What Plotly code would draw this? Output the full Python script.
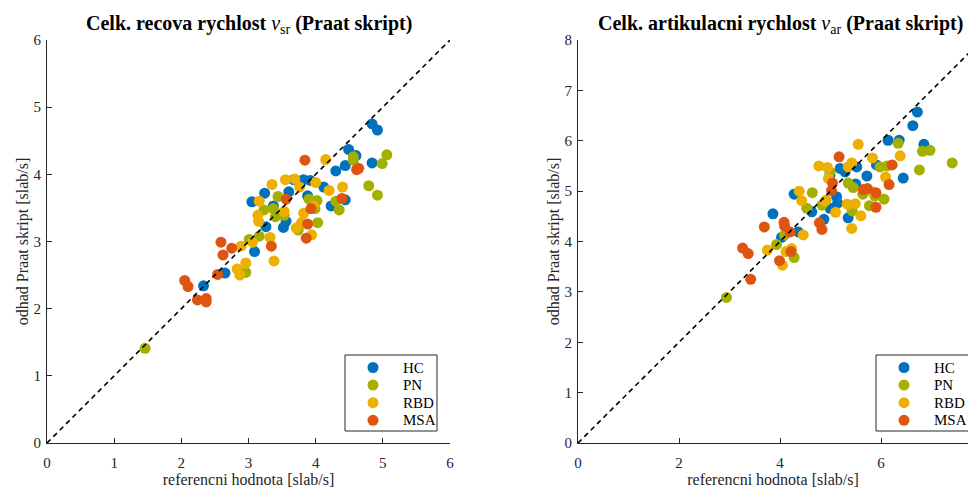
import plotly.graph_objects as go

groups = ["HC", "PN", "RBD", "MSA"]
colors = {"HC": "#0072BD", "PN": "#A4B000", "RBD": "#EDB000", "MSA": "#DF5410"}

# Left panel: speech rate v_sr (reference, Praat estimate)
sr_x = {
    "HC": [4.84, 4.92, 4.49, 4.60, 4.44, 4.30, 4.84, 3.82, 3.92, 4.12, 3.24, 3.60, 3.05, 3.88,
           4.23, 4.44, 3.37, 3.26, 3.56, 3.52, 3.09, 2.65, 2.33, 3.67],
    "PN": [5.06, 4.99, 4.56, 4.56, 4.79, 4.92, 3.44, 3.90, 4.02, 3.99, 4.30, 4.35, 3.23, 3.37,
           3.40, 3.53, 4.03, 3.74, 3.01, 3.16, 2.96, 1.46],
    "RBD": [4.15, 3.35, 3.55, 3.69, 3.76, 4.00, 4.20, 4.40, 3.16, 3.97, 3.53, 3.14, 3.15, 3.82,
            3.79, 3.71, 3.32, 3.94, 2.89, 3.06, 2.96, 3.38, 2.83, 2.87],
    "MSA": [3.84, 4.61, 4.64, 3.56, 4.39, 3.93, 3.88, 3.86, 3.34, 2.59, 2.75, 2.62, 2.54, 2.05,
            2.10, 2.24, 2.37, 2.37],
}
sr_y = {
    "HC": [4.75, 4.66, 4.37, 4.28, 4.13, 4.05, 4.17, 3.92, 3.91, 3.81, 3.72, 3.74, 3.59, 3.68,
           3.53, 3.62, 3.53, 3.22, 3.30, 3.21, 2.85, 2.53, 2.34, 3.92],
    "PN": [4.29, 4.16, 4.26, 4.21, 3.83, 3.69, 3.67, 3.63, 3.61, 3.49, 3.60, 3.47, 3.47, 3.49,
           3.37, 3.39, 3.28, 3.17, 3.03, 3.08, 2.54, 1.41],
    "RBD": [4.22, 3.85, 3.92, 3.93, 3.81, 3.88, 3.76, 3.81, 3.60, 3.53, 3.45, 3.39, 3.30, 3.42,
            3.28, 3.20, 3.06, 3.10, 2.93, 2.99, 2.68, 2.71, 2.59, 2.50],
    "MSA": [4.21, 4.07, 4.09, 3.63, 3.64, 3.49, 3.26, 3.05, 2.93, 2.99, 2.90, 2.80, 2.51, 2.42,
            2.33, 2.13, 2.15, 2.10],
}

# Right panel: articulation rate v_ar
ar_x = {
    "HC": [3.86, 4.03, 4.36, 4.28, 4.63, 4.87, 4.99, 5.12, 5.14, 5.19, 5.29, 5.52, 5.72, 5.91,
           5.50, 5.35, 6.14, 6.36, 6.44, 6.63, 6.72, 6.85, 4.99],
    "PN": [2.94, 3.93, 4.09, 4.28, 4.64, 4.53, 4.83, 4.99, 5.35, 5.45, 5.64, 5.88, 6.06, 5.77,
           5.43, 5.98, 6.12, 6.34, 6.76, 6.82, 6.97, 7.41],
    "RBD": [3.75, 4.46, 4.12, 4.23, 4.05, 4.38, 4.43, 4.77, 4.91, 5.55, 5.83, 6.38, 6.09, 5.42,
            5.35, 4.94, 4.96, 5.82, 5.49, 5.33, 5.60, 5.42, 5.10, 4.89],
    "MSA": [3.42, 3.26, 3.37, 3.69, 4.08, 4.09, 4.20, 4.22, 3.99, 4.78, 4.83, 5.17, 6.22, 6.16,
            5.04, 5.02, 5.65, 5.73, 5.90, 5.90],
}
ar_y = {
    "HC": [4.55, 4.08, 4.19, 4.94, 4.59, 4.44, 4.66, 4.89, 4.76, 5.45, 5.38, 5.48, 5.30, 5.52,
           5.14, 4.47, 6.01, 6.01, 5.26, 6.30, 6.57, 5.93, 5.32],
    "PN": [2.89, 3.94, 4.13, 3.68, 4.97, 4.66, 4.72, 5.38, 5.16, 5.07, 4.94, 4.90, 4.84, 4.71,
           4.61, 5.48, 5.50, 5.95, 5.42, 5.79, 5.81, 5.56],
    "RBD": [3.83, 4.13, 3.80, 3.86, 3.53, 5.00, 4.81, 5.50, 4.82, 5.93, 5.66, 5.70, 5.28, 5.56,
            5.48, 5.47, 5.25, 4.99, 4.75, 4.74, 4.51, 4.26, 4.58, 4.80],
    "MSA": [3.25, 3.87, 3.76, 4.29, 4.38, 4.31, 4.19, 3.80, 3.62, 4.37, 4.24, 5.68, 5.52, 5.13,
            5.16, 5.01, 5.03, 5.05, 4.97, 4.68],
}

diag_left = [0, 6]
diag_right = [0, 8]

left_ticks = [0, 1, 2, 3, 4, 5, 6]
right_xticks = [0, 2, 4, 6, 8]
right_yticks = [0, 1, 2, 3, 4, 5, 6, 7, 8]

FONT = "Liberation Serif"
AX = "#262626"

W, H = 968, 488
ML, MR, MT, MB = 47, 0, 40, 45
pw = W - ML - MR
ph = H - MT - MB


def px_x(p):
    return (p - ML) / pw


def px_y(p):
    return (H - MB - p) / ph


fig = go.Figure()

for g in groups:
    fig.add_trace(go.Scatter(x=sr_x[g], y=sr_y[g], mode="markers", name=g, showlegend=False,
                             marker=dict(color=colors[g], size=11, line=dict(width=0)),
                             xaxis="x", yaxis="y"))
fig.add_trace(go.Scatter(x=diag_left, y=diag_left, mode="lines", showlegend=False,
                         line=dict(color="black", width=1.6, dash="5px,4px"),
                         xaxis="x", yaxis="y"))

for g in groups:
    fig.add_trace(go.Scatter(x=ar_x[g], y=ar_y[g], mode="markers", name=g, showlegend=False,
                             marker=dict(color=colors[g], size=11, line=dict(width=0)),
                             xaxis="x2", yaxis="y2"))
fig.add_trace(go.Scatter(x=diag_right, y=diag_right, mode="lines", showlegend=False,
                         line=dict(color="black", width=1.6, dash="5px,4px"),
                         xaxis="x2", yaxis="y2"))

axis_common = dict(showline=True, linecolor=AX, linewidth=1, ticks="inside", ticklen=5,
                   tickcolor=AX, tickwidth=1, showgrid=False, zeroline=False, mirror=False,
                   tickfont=dict(family=FONT, size=15, color=AX),
                   title_font=dict(family=FONT, size=16, color=AX), automargin=False)

x_left_end = px_x(450)
x_right_start = px_x(578)
right_xmax = (968 - 578) / 50.5

# Legend boxes (drawn manually, MATLAB-style)
shapes = []
annotations = []
legend_boxes = [(345, 437), (876, 990)]
for (bx0, bx1) in legend_boxes:
    shapes.append(dict(type="rect", xref="paper", yref="paper",
                       x0=px_x(bx0), x1=px_x(bx1), y0=px_y(431), y1=px_y(355),
                       line=dict(color=AX, width=1), fillcolor="white", layer="above"))
    for i, g in enumerate(groups):
        yc = 367.5 + 17.6 * i
        mx = bx0 + 28
        shapes.append(dict(type="circle", xref="paper", yref="paper",
                           xsizemode="pixel", ysizemode="pixel",
                           xanchor=px_x(mx), yanchor=px_y(yc),
                           x0=-5.5, x1=5.5, y0=-5.5, y1=5.5,
                           fillcolor=colors[g], line=dict(width=0), layer="above"))
        annotations.append(dict(text=g, x=px_x(bx0 + 56), y=px_y(yc), xref="paper", yref="paper",
                                showarrow=False, xanchor="left", yanchor="middle",
                                font=dict(family=FONT, size=15, color="black")))

annotations += [
    dict(text="<b>Celk. recova rychlost </b><i>v</i><sub>sr</sub><b> (Praat skript)</b>",
         x=px_x(248.5), y=px_y(25), xref="paper", yref="paper", showarrow=False,
         xanchor="center", yanchor="middle", font=dict(family=FONT, size=20, color="black")),
    dict(text="<b>Celk. artikulacni rychlost </b><i>v</i><sub>ar</sub><b> (Praat skript)</b>",
         x=px_x(780), y=px_y(25), xref="paper", yref="paper", showarrow=False,
         xanchor="center", yanchor="middle", font=dict(family=FONT, size=20, color="black")),
]

fig.update_layout(
    width=W, height=H,
    margin=dict(l=ML, r=MR, t=MT, b=MB),
    plot_bgcolor="white", paper_bgcolor="white",
    xaxis=dict(domain=[0, x_left_end], range=[0, 6], tickvals=left_ticks, ticklabelstandoff=6,
               title=dict(text="referencni hodnota [slab/s]", standoff=5), anchor="y", **axis_common),
    yaxis=dict(domain=[0, 1], range=[0, 6], tickvals=left_ticks, ticklabelstandoff=2,
               title=dict(text="odhad Praat skript [slab/s]", standoff=0), anchor="x", **axis_common),
    xaxis2=dict(domain=[x_right_start, 1], range=[0, right_xmax], tickvals=right_xticks,
                ticklabelstandoff=6,
                title=dict(text="referencni hodnota [slab/s]", standoff=5), anchor="y2", **axis_common),
    yaxis2=dict(domain=[0, 1], range=[0, 8], tickvals=right_yticks, ticklabelstandoff=2,
                title=dict(text="odhad Praat skript [slab/s]", standoff=0), anchor="x2", **axis_common),
    shapes=shapes,
    annotations=annotations,
    showlegend=False,
)

fig.write_html("out.html")
